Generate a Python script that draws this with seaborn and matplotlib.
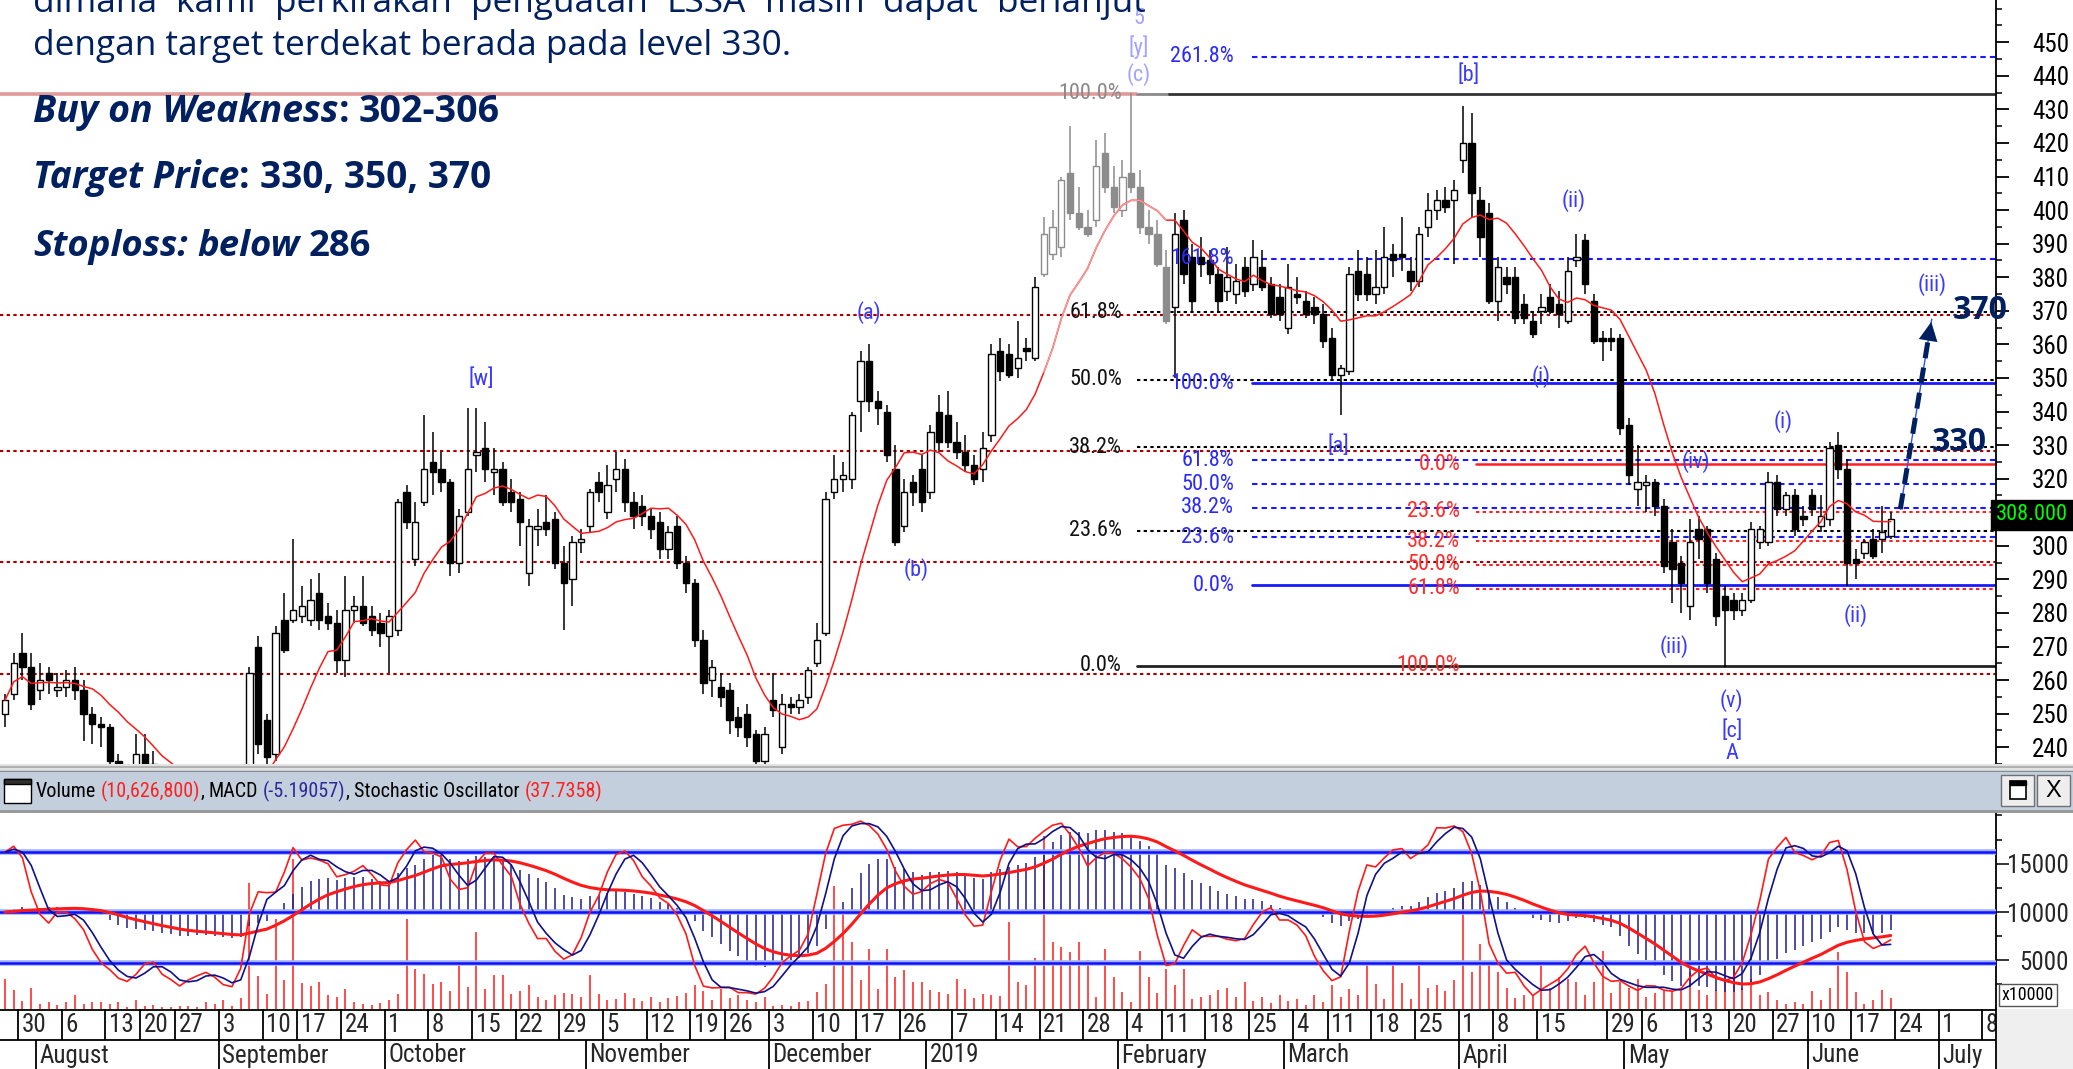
import numpy as np
import pandas as pd
import matplotlib
matplotlib.use('Agg')
import matplotlib.pyplot as plt
import matplotlib.font_manager as fm
from matplotlib.patches import Rectangle
import seaborn as sns

# ------------------------------------------------------------------ data
start_date = '2018-07-26'
calendar_end = '2019-07-12'
exchange_holidays = ['2018-08-17', '2018-08-22', '2018-09-11', '2018-11-20', '2018-12-24',
                     '2018-12-25', '2018-12-31', '2019-01-01', '2019-02-05', '2019-03-07',
                     '2019-04-03', '2019-04-17', '2019-04-19', '2019-05-01', '2019-05-30',
                     '2019-06-03', '2019-06-04', '2019-06-05', '2019-06-06', '2019-06-07']
skip_week_labels = ['2019-01-02', '2019-04-22']

# daily OHLC (IDR)
opens = [250, 256, 268, 264, 257, 262, 257, 258, 260, 257, 250, 247, 246,          # Jul-Aug
         236, 230, 232, 238, 235, 232, 228, 230, 226, 230, 231, 227,
         224, 221, 219, 228, 270, 248, 238, 278, 278, 279, 278, 286, 279, 277, 266,  # Sep
         281, 282, 279, 277,
         273, 275, 316, 296, 313, 325, 323, 319, 295, 310, 327, 329, 322, 323, 316,  # Oct
         314, 292, 305, 307, 308, 295, 290, 301,
         306, 319, 310, 320, 323, 313, 312, 309, 307, 299, 306, 295, 289, 272, 260,  # Nov
         258, 257, 249, 250, 244, 236,
         254, 240, 253, 252, 255, 265, 274, 316, 320, 320, 343, 355, 343, 340, 323,  # Dec
         306, 319, 323,
         316, 340, 339, 331, 328, 324, 323, 333, 358, 357, 353, 359, 356, 381, 387,  # Jan
         389, 411, 399, 395, 397, 417, 407,
         400, 411, 407, 395, 393, 383, 371, 397, 386, 386, 385, 381, 376, 375, 383,  # Feb
         378, 383, 378, 374,
         365, 375, 373, 371, 369, 362, 351, 352, 382, 381, 375, 377, 387, 387, 382,  # Mar
         379, 395, 400, 403, 403,
         415, 420, 403, 399, 373, 380, 380, 372, 367, 370, 374, 372, 367, 385, 391,  # Apr
         373, 362, 362, 362,
         336, 317, 318, 319, 312, 301, 295, 282, 305, 305, 296, 285, 284, 281, 284,  # May
         301, 301, 319, 311, 315, 309,
         315, 306, 308, 330, 323, 296, 298, 302, 302, 303]                            # Jun
highs = [256, 268, 274, 268, 265, 264, 262, 263, 264, 260, 252, 249, 247,
         238, 234, 244, 244, 239, 235, 232, 233, 232, 234, 233, 229,
         226, 224, 229, 264, 273, 250, 276, 286, 302, 288, 290, 292, 283, 281, 291,
         285, 291, 282, 280,
         281, 314, 318, 313, 339, 334, 328, 320, 311, 341, 341, 337, 329, 325, 320,
         316, 308, 311, 315, 310, 300, 303, 305,
         317, 322, 324, 328, 326, 316, 315, 311, 310, 306, 309, 297, 290, 275, 266,
         262, 259, 252, 253, 245, 246,
         262, 256, 255, 256, 264, 277, 316, 327, 325, 340, 358, 360, 346, 342, 330,
         320, 321, 327,
         336, 345, 346, 337, 333, 327, 334, 360, 362, 360, 367, 362, 380, 398, 400,
         410, 425, 407, 400, 421, 423, 413,
         415, 435, 412, 400, 397, 388, 399, 400, 390, 392, 388, 383, 389, 384, 386,
         391, 388, 380, 378,
         384, 380, 376, 374, 372, 365, 354, 383, 388, 386, 388, 395, 390, 398, 386,
         395, 405, 406, 407, 409,
         431, 429, 407, 402, 386, 383, 383, 375, 370, 375, 378, 376, 386, 393, 393,
         375, 364, 365, 363,
         338, 330, 321, 320, 314, 305, 297, 308, 309, 306, 298, 288, 286, 286, 307,
         306, 322, 321, 316, 317, 312,
         317, 315, 331, 334, 326, 299, 302, 305, 312, 310]
lows = [246, 254, 260, 251, 254, 256, 255, 255, 254, 242, 241, 240, 230,
        228, 226, 230, 233, 230, 226, 225, 224, 224, 227, 225, 222,
        219, 217, 218, 227, 238, 233, 236, 268, 277, 277, 276, 275, 275, 262, 261,
        277, 276, 273, 270,
        262, 273, 305, 294, 312, 315, 316, 291, 292, 309, 322, 319, 315, 312, 310,
        300, 288, 300, 303, 293, 275, 282, 298,
        304, 313, 308, 316, 310, 305, 306, 302, 296, 296, 293, 286, 270, 256, 255,
        252, 244, 243, 240, 234, 234,
        249, 238, 250, 250, 253, 264, 273, 314, 316, 317, 334, 340, 336, 325, 300,
        304, 312, 310,
        314, 328, 329, 326, 322, 318, 319, 331, 349, 350, 350, 355, 355, 380, 385,
        386, 397, 394, 392, 395, 405, 399,
        398, 405, 393, 390, 383, 366, 350, 378, 370, 380, 378, 370, 373, 372, 374,
        376, 376, 368, 367,
        363, 372, 368, 366, 359, 349, 339, 351, 373, 373, 372, 375, 380, 382, 376,
        377, 392, 397, 399, 384,
        411, 398, 386, 372, 367, 375, 366, 366, 362, 366, 369, 365, 366, 383, 375,
        360, 355, 358, 333,
        318, 312, 310, 309, 292, 283, 280, 278, 296, 286, 276, 264, 278, 279, 283,
        299, 300, 309, 309, 303, 306,
        309, 304, 306, 320, 288, 290, 296, 296, 298, 302]
closes = [254, 265, 264, 253, 260, 260, 258, 260, 257, 250, 247, 246, 236,
          230, 232, 238, 235, 232, 228, 230, 226, 230, 231, 227, 224,
          221, 219, 227, 262, 241, 237, 274, 269, 281, 282, 284, 278, 277, 266, 281,
          282, 277, 275, 274,
          279, 313, 307, 307, 323, 322, 319, 295, 309, 323, 328, 323, 323, 313, 313,
          307, 306, 306, 305, 295, 289, 301, 302,
          316, 316, 318, 323, 313, 309, 309, 305, 299, 304, 295, 289, 272, 259, 264,
          255, 248, 246, 243, 236, 244,
          251, 253, 252, 254, 263, 272, 314, 320, 321, 339, 355, 343, 341, 327, 301,
          316, 316, 313,
          334, 331, 331, 328, 324, 320, 329, 357, 352, 351, 356, 358, 377, 393, 395,
          409, 399, 395, 393, 413, 407, 401,
          410, 407, 395, 393, 384, 367, 393, 381, 373, 384, 381, 373, 380, 379, 376,
          386, 377, 369, 369,
          377, 374, 369, 369, 361, 351, 353, 381, 375, 375, 377, 386, 385, 386, 379,
          393, 400, 403, 401, 406,
          420, 405, 392, 373, 383, 378, 368, 368, 363, 371, 370, 369, 382, 386, 378,
          361, 361, 361, 335,
          321, 319, 319, 312, 294, 293, 289, 301, 302, 289, 279, 281, 281, 284, 305,
          305, 319, 311, 315, 305, 308,
          311, 309, 329, 323, 295, 295, 301, 297, 304, 308]
# daily volume (x10000 shares)
volumes = [3100, 1900, 800, 2100, 500, 700, 400, 700, 1400, 500, 700, 700, 500,
           700, 200, 900, 300, 400, 150, 200, 300, 300, 200, 700, 500,
           900, 300, 1100, 13000, 3400, 1500, 9300, 3000, 15500, 2700, 2300, 2800, 1400, 1200, 2000,
           700, 500, 400, 600,
           900, 1500, 9300, 4100, 3600, 2500, 2800, 1800, 4500, 2200, 7900, 2000, 3450, 3450, 1500,
           1800, 2400, 1200, 900, 1400, 1600, 1560, 1200,
           3450, 1500, 900, 1000, 1600, 1100, 800, 1200, 700, 1050, 1300, 1600, 2400, 1800, 900,
           2000, 1100, 1400, 900, 700, 1200,
           300, 400, 300, 700, 800, 1700, 2500, 12700, 10000, 6900, 3000, 6200, 2000, 6200, 3300,
           4000, 2800, 2770,
           1900, 1700, 1500, 3100, 2000, 1050, 1500, 1400, 1300, 9000, 2800, 2400, 5200, 17900, 6900,
           6400, 5900, 6900, 5000, 1200, 6200, 3300,
           1700, 700, 6000, 3300, 1600, 4100, 2400, 4100, 1000, 1200, 1400, 1900, 2100, 1200, 2750,
           800, 1200, 600, 1400,
           800, 1000, 400, 1400, 700, 2400, 1200, 2000, 1400, 4500, 2500, 1000, 4500, 2700, 1000,
           4800, 2100, 2400, 1800, 3000,
           11300, 3800, 6700, 4500, 3800, 2100, 1100, 1400, 1400, 4500, 2100, 3300, 3100, 2800, 1400,
           2760, 6000, 1600, 2800,
           2100, 3100, 1200, 1600, 1800, 1800, 1800, 3800, 1900, 1400, 1900, 4500, 4500, 2100, 3100,
           1400, 1700, 900, 500, 700, 500,
           1800, 900, 2100, 5900, 3800, 1700, 500, 900, 1900, 1062.68]

header_values = {'volume': '10,626,800', 'macd': '-5.19057', 'stoch': '37.7358'}
target_prices = [330, 350, 370]
sr_levels = [368.6, 328.1, 295.1, 261.9]            # dark red dotted support / resistance
fib_black = {'high': 434.6, 'low': 264.3, 'start': 129.7}
fib_blue = {'p100': 348.4, 'p0': 288.3, 'start': 142.8}
fib_red = {'p0': 324.3, 'p100': 264.3, 'start': 168.5}
stoch_levels = [16200, 10000, 4700]
greyed = (119, 133)
month_names = {1: '2019', 2: 'February', 3: 'March', 4: 'April', 5: 'May', 6: 'June', 7: 'July',
               8: 'August', 9: 'September', 10: 'October', 11: 'November', 12: 'December'}

# ------------------------------------------------------------------ fonts / styles
sns.set_theme(style='white')
avail = {f.name for f in fm.fontManager.ttflist}

def pick_narrow():
    for name in ['Liberation Sans Narrow', 'Roboto Condensed', 'Arial Narrow']:
        if name in avail:
            return name, 'condensed'
    cond = [f for f in fm.fontManager.ttflist
            if str(f.stretch) in ('condensed', 'semi-condensed', '500', '375', '300')
            and f.style == 'normal']
    for pref in ['DejaVu Sans', 'Liberation Sans', 'Noto Sans', 'Open Sans', 'Roboto']:
        for f in cond:
            if f.name == pref:
                return f.name, f.stretch
    if cond:
        return cond[0].name, cond[0].stretch
    return 'Liberation Sans', 'normal'

NARROW, NSTRETCH = pick_narrow()

def has_bi(name):
    return any(f.name == name and f.style == 'italic' and f.weight in (600, 700, 'bold', 'semibold')
               for f in fm.fontManager.ttflist)
TXT = 'DejaVu Sans'
for cand in ['Noto Sans', 'Open Sans', 'Lato']:
    if cand in avail and has_bi(cand):
        TXT = cand
        break
plt.rcParams['font.family'] = [NARROW, 'DejaVu Sans']
plt.rcParams['font.stretch'] = NSTRETCH

NAVY = '#002060'
WAVE = '#3a3aff'
LAV = '#a2a2ff'
DRED = '#a80000'

W, H, DPI = 2073, 1069, 100
AXR = 1996          # right axis pixel
X0, DX = 5.0, 8.73  # pixel of first candle, pixel per trading day
fig = plt.figure(figsize=(W / DPI, H / DPI), dpi=DPI, facecolor='white')

def rect(x0, y0, x1, y1):
    return [x0 / W, 1 - y1 / H, (x1 - x0) / W, (y1 - y0) / H]

ax_p = fig.add_axes(rect(0, 0, AXR, 764))
ax_l = fig.add_axes(rect(0, 813, AXR, 1008.6))
ax_d = fig.add_axes(rect(0, 1009, AXR, 1069))
ov = fig.add_axes([0, 0, 1, 1])
ov.set_xlim(0, W); ov.set_ylim(H, 0); ov.axis('off'); ov.set_zorder(20); ov.patch.set_alpha(0)

xmin, xmax = -X0 / DX, (AXR - X0) / DX

# ------------------------------------------------------------------ calendar
bdays = pd.bdate_range(start_date, calendar_end)
cal = bdays[~bdays.isin(pd.to_datetime(exchange_holidays))]
n = len(closes)
idx = np.arange(n)
O, Hh, L, C = (np.array(a, float) for a in (opens, highs, lows, closes))
V = np.array(volumes, float)

NF = dict(family=[NARROW, 'DejaVu Sans'], fontstretch=NSTRETCH)

# ------------------------------------------------------------------ price panel
ax_p.set_xlim(xmin, xmax)
ax_p.set_ylim(235.33, 462.58)
for s in ['top', 'left', 'bottom']:
    ax_p.spines[s].set_visible(False)
ax_p.spines['right'].set_color('black'); ax_p.spines['right'].set_linewidth(1.3)
ax_p.set_facecolor('white')
ax_p.set_xticks([])
ax_p.yaxis.tick_right()
yt = np.arange(240, 451, 10)
ax_p.set_yticks(yt, [str(v) for v in yt], ha='right', fontsize=18, **NF)
ax_p.set_yticks(np.arange(235, 461, 5), minor=True)
ax_p.tick_params(axis='y', which='major', length=9.5, width=1.3, direction='out', pad=43, colors='black')
ax_p.tick_params(axis='y', which='minor', length=4.5, width=1.3, direction='out')
ax_p.grid(False)

# horizontal support/resistance lines
for lv in sr_levels:
    ax_p.axhline(lv, color=DRED, lw=1.5, dashes=(1.6, 1.6), zorder=1)
# pink resistance line + black 100% fib
ax_p.plot([xmin, fib_black['start']], [fib_black['high']] * 2, color='#e09a9a', lw=2.6, zorder=1,
          solid_capstyle='butt')
ax_p.plot([fib_black['start'], greyed[1] + 0.3], [fib_black['high']] * 2, color='#8a8a8a', lw=2, zorder=1)
ax_p.plot([greyed[1] + 0.3, xmax], [fib_black['high']] * 2, color='#333333', lw=2, zorder=1)

FL = dict(fontsize=16, **NF)
# black fib
rng = fib_black['high'] - fib_black['low']
for r in [0.236, 0.382, 0.5, 0.618]:
    lv = fib_black['low'] + r * rng
    ax_p.plot([fib_black['start'], xmax], [lv, lv], color='black', lw=1.5, dashes=(1.6, 1.6), zorder=1)
ax_p.plot([fib_black['start'], xmax], [fib_black['low']] * 2, color='#222222', lw=2, zorder=1)
for r in [0, 0.236, 0.382, 0.5, 0.618, 1.0]:
    lv = fib_black['low'] + r * rng
    ax_p.text(fib_black['start'] - 1.75, lv, f'{r * 100:.1f}%', ha='right', va='center',
              color='#8a8a8a' if r == 1.0 else '#111111', zorder=6, **FL)

# blue fib
rngb = fib_blue['p100'] - fib_blue['p0']
for r in [0.236, 0.382, 0.5, 0.618, 1.618, 2.618]:
    lv = fib_blue['p0'] + r * rngb
    ax_p.plot([fib_blue['start'], xmax], [lv, lv], color='#1a1aff', lw=1.5, dashes=(2.6, 2.0), zorder=1)
for r in [0, 1.0]:
    lv = fib_blue['p0'] + r * rngb
    ax_p.plot([fib_blue['start'], xmax], [lv, lv], color='#1a1aff', lw=2, zorder=1)
for r in [0, 0.236, 0.382, 0.5, 0.618, 1.0, 1.618, 2.618]:
    lv = fib_blue['p0'] + r * rngb
    ax_p.text(fib_blue['start'] - 2.0, lv, f'{r * 100:.1f}%', ha='right', va='center',
              color='#2a2aff', zorder=6, **FL)

# red fib
rngr = fib_red['p0'] - fib_red['p100']
for r in [0.236, 0.382, 0.5, 0.618]:
    lv = fib_red['p0'] - r * rngr
    ax_p.plot([fib_red['start'], xmax], [lv, lv], color='#ff2020', lw=1.5, dashes=(1.6, 1.6), zorder=1)
ax_p.plot([fib_red['start'], xmax], [fib_red['p0']] * 2, color='#ff2020', lw=1.8, zorder=1)
for r in [0, 0.236, 0.382, 0.5, 0.618, 1.0]:
    lv = fib_red['p0'] - r * rngr
    ax_p.text(fib_red['start'] - 1.8, lv, f'{r * 100:.1f}%', ha='right', va='center',
              color='#ff2a2a', zorder=6, **FL)

# candles
grey = (idx >= greyed[0]) & (idx <= greyed[1])
for i in idx:
    ec = '#8c8c8c' if grey[i] else 'black'
    lo, hi = min(O[i], C[i]), max(O[i], C[i])
    if hi - lo < 0.7:
        hi = lo + 0.7
    ax_p.vlines(i, L[i], lo, color=ec, lw=1.1, zorder=3)
    ax_p.vlines(i, hi, Hh[i], color=ec, lw=1.1, zorder=3)
    fc = 'white' if C[i] >= O[i] else ec
    ax_p.add_patch(Rectangle((i - 0.36, lo), 0.72, hi - lo, facecolor=fc, edgecolor=ec, lw=1.0, zorder=4))

# moving average
ma = pd.Series(C).rolling(10, min_periods=1).mean().values
sns.lineplot(x=idx, y=ma, ax=ax_p, color='#ff1a1a', linewidth=1.1, zorder=5)
sns.lineplot(x=idx[grey], y=ma[grey], ax=ax_p, color='#f59a9a', linewidth=1.1, zorder=5)

# wave labels
wave_labels = [('[w]', 54.6, 349.6, WAVE), ('(a)', 99.0, 369.5, WAVE), ('(b)', 104.4, 293.0, WAVE),
               ('5', 129.9, 457.2, LAV), ('[y]', 129.9, 448.6, LAV), ('(c)', 129.9, 440.3, LAV),
               ('[b]', 167.7, 440.3, WAVE), ('(ii)', 179.7, 403.0, WAVE), ('(i)', 176.0, 350.5, WAVE),
               ('[a]', 152.7, 329.6, WAVE), ('(iv)', 193.7, 325.2, WAVE), ('(i)', 203.7, 337.0, WAVE),
               ('(iii)', 191.2, 269.9, WAVE), ('(v)', 197.8, 253.8, WAVE), ('[c]', 197.8, 244.9, WAVE),
               ('A', 197.8, 238.2, WAVE), ('(ii)', 212.0, 279.2, WAVE), ('(iii)', 220.7, 377.8, WAVE)]
for s, x, y, c in wave_labels:
    ax_p.text(x, y, s, ha='center', va='center', color=c, zorder=7, **FL)

# target annotations
TB = dict(fontsize=23, fontweight='bold', family=TXT, fontstretch='normal', color=NAVY, zorder=8,
          clip_on=False, ha='center', va='center')
ax_p.text(226.3, target_prices[2], str(target_prices[2]), **TB)
ax_p.text(223.8, target_prices[0] + 0.8, str(target_prices[0]), **TB)
ax0, ay0 = n + 0.1, C[-1] + 2.9
ax1, ay1 = n + 3.7, target_prices[2] - 2.5
ax_p.plot([ax0, ax1], [ay0, ay1], color='#3050ff', lw=1.0, zorder=7)
ax_p.plot([ax0, ax1 - 0.3], [ay0, ay1 - 4.5], color=NAVY, lw=3.6, dashes=(3.2, 1.9), zorder=8,
          solid_capstyle='butt')
ax_p.annotate('', xy=(ax1, ay1), xytext=(ax1 - 0.45, ay1 - 7),
              arrowprops=dict(arrowstyle='-|>', color=NAVY, lw=0, mutation_scale=34), zorder=9)

# last price box
ax_p.text(1.0 + 36 / AXR, C[-1] + 1.2, f'{C[-1]:.3f}', transform=ax_p.get_yaxis_transform(),
          ha='center', va='center', fontsize=16, color='#00ff00', zorder=9, clip_on=False,
          bbox=dict(boxstyle='square,pad=0.22', fc='black', ec='black'), **NF)

# ------------------------------------------------------------------ indicator panel
ax_l.set_xlim(xmin, xmax)
ax_l.set_ylim(0, 20250)
for s in ['top', 'left', 'bottom']:
    ax_l.spines[s].set_visible(False)
ax_l.spines['right'].set_color('black'); ax_l.spines['right'].set_linewidth(1.3)
ax_l.set_facecolor('white')
ax_l.set_xticks([])
ax_l.yaxis.tick_right()
ax_l.set_yticks([5000, 10000, 15000], ['5000', '10000', '15000'], ha='right', fontsize=18, **NF)
ax_l.set_yticks([2500, 7500, 12500, 17500, 20000], minor=True)
ax_l.tick_params(axis='y', which='major', length=9.5, width=1.3, direction='out', pad=43)
ax_l.tick_params(axis='y', which='minor', length=4.5, width=1.3, direction='out')
ax_l.grid(False)

ax_l.vlines(idx, 0, V, color='#ff1a1a', lw=1.1, zorder=1)
ema12 = pd.Series(C).ewm(span=12, adjust=False).mean()
ema26 = pd.Series(C).ewm(span=26, adjust=False).mean()
macd = (ema12 - ema26).values
signal = pd.Series(macd).ewm(span=9, adjust=False).mean().values
MK = 345.0
ax_l.vlines(idx, 10000, 10000 + macd * MK, color='#1c1c90', lw=1.1, zorder=2)
for lv in stoch_levels:
    ax_l.axhline(lv, color='#9fb0ff', lw=4.0, zorder=3)
    ax_l.axhline(lv, color='#1010ff', lw=1.8, zorder=3)
sns.lineplot(x=idx, y=10000 + signal * MK, ax=ax_l, color='#ff1a1a', linewidth=2.2, zorder=4)
hh = pd.Series(Hh).rolling(14, min_periods=1).max()
ll = pd.Series(L).rolling(14, min_periods=1).min()
kraw = 100 * (pd.Series(C) - ll) / (hh - ll)
kline = kraw.rolling(3, min_periods=1).mean()
dline = kline.rolling(3, min_periods=1).mean()
def smap(s):
    return stoch_levels[2] + (np.asarray(s) - 20) * (stoch_levels[0] - stoch_levels[2]) / 60.0
sns.lineplot(x=idx, y=smap(kline), ax=ax_l, color='#ff1a1a', linewidth=1.2, zorder=5)
sns.lineplot(x=idx, y=smap(dline), ax=ax_l, color='#10108a', linewidth=1.2, zorder=6)

# ------------------------------------------------------------------ date axis
ax_d.set_xlim(xmin, xmax); ax_d.set_ylim(0, 60)
ax_d.axis('off')
ax_d.axhline(59.5, color='black', lw=1.3)
ax_d.axhline(29, color='black', lw=1.3)
dates = list(cal)
skip = set(pd.to_datetime(skip_week_labels))
for j in range(1, len(dates)):
    d, p = dates[j], dates[j - 1]
    x = j - 0.5
    if x > xmax:
        break
    if d.isocalendar()[1] != p.isocalendar()[1] and d not in skip:
        ax_d.vlines(x, 29, 60, color='black', lw=1.3)
        ax_d.text(x + 0.4, 44, str(d.day), ha='left', va='center', fontsize=18, **NF)
    if d.month != p.month:
        ax_d.vlines(x, 0, 29, color='black', lw=1.3)
        ax_d.text(x + 0.4, 13.5, month_names[d.month], ha='left', va='center', fontsize=18, **NF)

# ------------------------------------------------------------------ frame decorations
ov.add_patch(Rectangle((0, 764), W, 6, fc='#e2e2e2', ec='none', zorder=1))
ov.plot([0, W], [766.5, 766.5], color='#a8a8a8', lw=1.2, zorder=2)
ov.add_patch(Rectangle((0, 770), W, 40, fc='#c3cfdc', ec='none', zorder=1))
ov.add_patch(Rectangle((0, 810), W, 3, fc='#9a9a9a', ec='none', zorder=1))
ov.add_patch(Rectangle((0, 770.5), W, 1.2, fc='#8a8a8a', ec='none', zorder=2))
# window icon
ov.add_patch(Rectangle((4, 779), 27, 24, fc='white', ec='black', lw=1.0, zorder=3))
ov.add_patch(Rectangle((4, 779), 27, 5, fc='#303030', ec='black', lw=1.0, zorder=3))
# buttons
ov.add_patch(Rectangle((2001, 775), 33, 31, fc='#eeeeee', ec='#707070', lw=1.0, zorder=3))
ov.add_patch(Rectangle((2010, 781), 16, 18, fc='white', ec='black', lw=1.2, zorder=4))
ov.add_patch(Rectangle((2010, 781), 16, 4, fc='black', ec='black', lw=1.0, zorder=4))
ov.add_patch(Rectangle((2037, 775), 33, 31, fc='#eeeeee', ec='#707070', lw=1.0, zorder=3))
ov.text(2053.5, 791, 'X', ha='center', va='center', fontsize=17, color='black', zorder=5,
        family=['Liberation Sans', 'DejaVu Sans'], fontstretch='normal')
# bottom right grey area + scale box
ov.add_patch(Rectangle((AXR + 1, 1009), W - AXR, 60, fc='#efefef', ec='none', zorder=1))
ov.add_patch(Rectangle((AXR + 3, 984), 58, 22, fc='white', ec='#555555', lw=1.0, zorder=3))
ov.text(AXR + 32, 995.5, 'x10000', ha='center', va='center', fontsize=13, color='black', zorder=4, **NF)
ov.plot([AXR, AXR], [1008, 1069], color='black', lw=1.3, zorder=2)

# ------------------------------------------------------------------ texts with runs
renderer = fig.canvas.get_renderer()

def width_of(s, **kw):
    t = ov.text(0, 0, s, **kw)
    w = t.get_window_extent(renderer).width
    t.remove()
    return w

def place_runs(x, y, runs, size, family, stretch='normal', target=None):
    arts = []
    for s, kw in runs:
        if s == ' ':
            arts.append((' ', kw))
        else:
            arts.append((ov.text(x, y, s, fontsize=size, family=family, fontstretch=stretch,
                                 va='baseline', ha='left', zorder=10, **kw), kw))
    def layout(sz):
        cx = x
        for a, kw in arts:
            if isinstance(a, str):
                kk = {k: v for k, v in kw.items() if k in ('fontweight', 'fontstyle')}
                cx += (width_of('n n', fontsize=sz, family=family, fontstretch=stretch, **kk)
                       - width_of('nn', fontsize=sz, family=family, fontstretch=stretch, **kk))
            else:
                a.set_fontsize(sz)
                a.set_x(cx)
                cx += a.get_window_extent(renderer).width
        return cx - x
    w = layout(size)
    if target:
        size = size * target / w
        layout(size)
    return size

BI = {'fontweight': 'bold', 'fontstyle': 'italic', 'color': NAVY}
B = {'fontweight': 'bold', 'color': NAVY}
R = {'color': NAVY}
sz = place_runs(33, 55, [('dengan target terdekat berada pada level 330.', R)], 24, TXT, target=761)
# justified first line (cut at top edge)
words = 'dimana kami perkirakan penguatan LSSA masih dapat berlanjut'.split()
wd = [width_of(w_, fontsize=sz, family=TXT, fontstretch='normal') for w_ in words]
gap = (1146 - 33 - sum(wd)) / (len(words) - 1)
cx = 33
for w_, ww in zip(words, wd):
    ov.text(cx, 12, w_, fontsize=sz, family=TXT, fontstretch='normal', color=NAVY, va='baseline',
            ha='left', zorder=10)
    cx += ww + gap

place_runs(33, 122, [('Buy on Weakness', BI), (':', B), (' ', B), ('302-306', B)], 24, TXT, target=467)
place_runs(33, 188, [('Target Price', BI), (':', B), (' ', B),
                     (', '.join(str(t) for t in target_prices), B)], 24, TXT, target=458)
place_runs(33, 256, [('Stoploss:', BI), (' ', BI), ('below', BI), (' ', B), ('286', B)], 24, TXT,
           target=338)

K = {'color': 'black'}
place_runs(36, 797, [('Volume', K), (' ', K), (f"({header_values['volume']})", {'color': '#ff2020'}),
                     (',', K), (' ', K), ('MACD', K), (' ', K),
                     (f"({header_values['macd']})", {'color': '#2a2a9a'}),
                     (',', K), (' ', K), ('Stochastic Oscillator', K), (' ', K),
                     (f"({header_values['stoch']})", {'color': '#ff2020'})],
           16, [NARROW, 'DejaVu Sans'], stretch=NSTRETCH, target=568)

fig.savefig('out.png', dpi=DPI, facecolor='white')
